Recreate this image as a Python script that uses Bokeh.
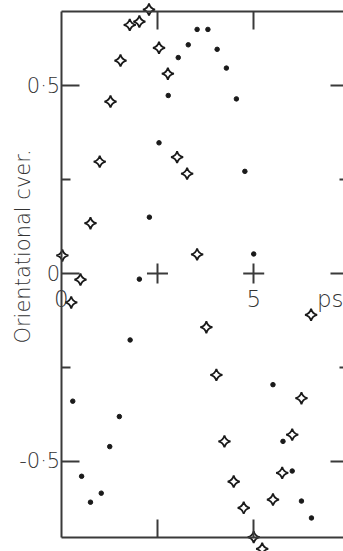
import numpy as np
from bokeh.plotting import figure
from bokeh.models import LinearAxis, FixedTicker, Range1d, Label
from bokeh.embed import file_html
from bokeh.resources import INLINE

# ---- data (time in ps, orientational order) ----
dot_t = [0.30, 0.53, 0.76, 1.04, 1.26, 1.51, 1.79, 2.03, 2.29, 2.54, 2.78, 3.04, 3.30,
         3.53, 3.81, 4.05, 4.29, 4.55, 4.77, 5.00, 5.50, 5.76, 6.00, 6.24, 6.50]
dot_v = [-0.340, -0.540, -0.609, -0.585, -0.461, -0.381, -0.177, -0.015, 0.150, 0.348,
         0.474, 0.575, 0.609, 0.650, 0.650, 0.597, 0.547, 0.465, 0.272, 0.052,
         -0.296, -0.447, -0.526, -0.606, -0.651]

star_t = [0.03, 0.26, 0.50, 0.76, 1.00, 1.28, 1.54, 1.78, 2.03, 2.28, 2.54, 2.77, 3.01,
          3.27, 3.53, 3.77, 4.03, 4.24, 4.48, 4.74, 5.00, 5.22, 5.50, 5.74, 6.00, 6.24, 6.49]
star_v = [0.048, -0.077, -0.016, 0.134, 0.298, 0.458, 0.567, 0.662, 0.671, 0.703, 0.601,
          0.532, 0.310, 0.266, 0.051, -0.143, -0.270, -0.447, -0.554, -0.624, -0.702,
          -0.733, -0.602, -0.531, -0.429, -0.332, -0.110]

y_major = [-0.5, 0.0, 0.5]
y_minor = [-0.25, 0.25]
y_tick_labels = {-0.5: "-0·5", 0.0: "0", 0.5: "0·5"}
x_cross_ticks = [2.5, 5.0]
x_label_ticks = [0.0, 5.0, 7.0]
x_tick_labels = {0.0: "0", 5.0: "5", 7.0: "ps"}
y_title = "Orientational cver."

# ---- styling ----
FRAME_X = (0.0, 7.5)
FRAME_Y = (-0.702, 0.698)
FRAME_COLOR = "#3a3a3a"
TEXT_COLOR = "#333333"
FONT = "DejaVu Sans Light"

p = figure(width=343, height=551,
           x_range=Range1d(-1.577, 7.332), y_range=Range1d(-0.7403, 0.7270),
           output_backend="svg", toolbar_location=None,
           x_axis_location=None, y_axis_location=None, min_border=0)
p.grid.visible = False
p.outline_line_color = None
p.background_fill_color = "white"
p.border_fill_color = "white"


def frame_axis(loc, bounds, ticker, tick_in, minor_in=0):
    ax = LinearAxis(fixed_location=loc, bounds=bounds, ticker=ticker)
    ax.axis_line_color = FRAME_COLOR
    ax.axis_line_width = 2
    ax.major_tick_line_color = FRAME_COLOR
    ax.major_tick_line_width = 2
    ax.minor_tick_line_color = FRAME_COLOR
    ax.minor_tick_line_width = 2
    ax.major_tick_in = tick_in
    ax.major_tick_out = 0
    ax.minor_tick_in = minor_in
    ax.minor_tick_out = 0
    ax.major_label_text_color = None
    ax.major_label_standoff = 0
    return ax


# left frame with labels
yl = frame_axis(FRAME_X[0], FRAME_Y, FixedTicker(ticks=y_major, minor_ticks=y_minor), 18, 9)
yl.major_label_overrides = y_tick_labels
yl.major_label_text_font_size = "21px"
yl.major_label_text_font = FONT
yl.major_label_text_color = TEXT_COLOR
yl.major_label_standoff = 1
p.add_layout(yl, "left")

# right frame (sits just outside the visible area)
yr = frame_axis(FRAME_X[1], FRAME_Y, FixedTicker(ticks=y_major, minor_ticks=y_minor), 19, 10)
p.add_layout(yr, "right")

# top and bottom frame
xt = frame_axis(FRAME_Y[1], FRAME_X, FixedTicker(ticks=x_cross_ticks, minor_ticks=[]), 18)
p.add_layout(xt, "above")
xb = frame_axis(FRAME_Y[0], FRAME_X, FixedTicker(ticks=x_cross_ticks, minor_ticks=[]), 18)
p.add_layout(xb, "below")

# time axis through zero: crosses and labels
xc = frame_axis(0.0, FRAME_X, FixedTicker(ticks=x_cross_ticks, minor_ticks=[]), 10)
xc.major_tick_out = 10
xc.axis_line_color = None
p.add_layout(xc, "below")
p.scatter(x_cross_ticks, [0.0] * len(x_cross_ticks), marker="dash", size=21,
          line_color=FRAME_COLOR, line_width=2)

xl = LinearAxis(fixed_location=0.0, ticker=FixedTicker(ticks=x_label_ticks, minor_ticks=[]))
xl.axis_line_color = None
xl.major_tick_line_color = None
xl.minor_tick_line_color = None
xl.major_tick_in = 0
xl.major_tick_out = 0
xl.major_label_overrides = x_tick_labels
xl.major_label_standoff = 12
xl.major_label_text_font_size = "23px"
xl.major_label_text_font = FONT
xl.major_label_text_color = TEXT_COLOR
p.add_layout(xl, "below")

# y title
p.add_layout(Label(x=-1.005, y=0.072, text=y_title, angle=np.pi / 2,
                   text_align="center", text_baseline="middle",
                   text_font=FONT, text_font_size="21px", text_color=TEXT_COLOR))

# data
p.scatter(dot_t, dot_v, marker="circle", size=4.5, fill_color="#1a1a1a", line_color="#1a1a1a")
p.scatter(star_t, star_v, marker="square_pin", size=8.5, angle=np.pi / 4,
          fill_color="white", line_color="#1a1a1a", line_width=1.8)

open("out.html", "w").write(file_html(p, INLINE))
